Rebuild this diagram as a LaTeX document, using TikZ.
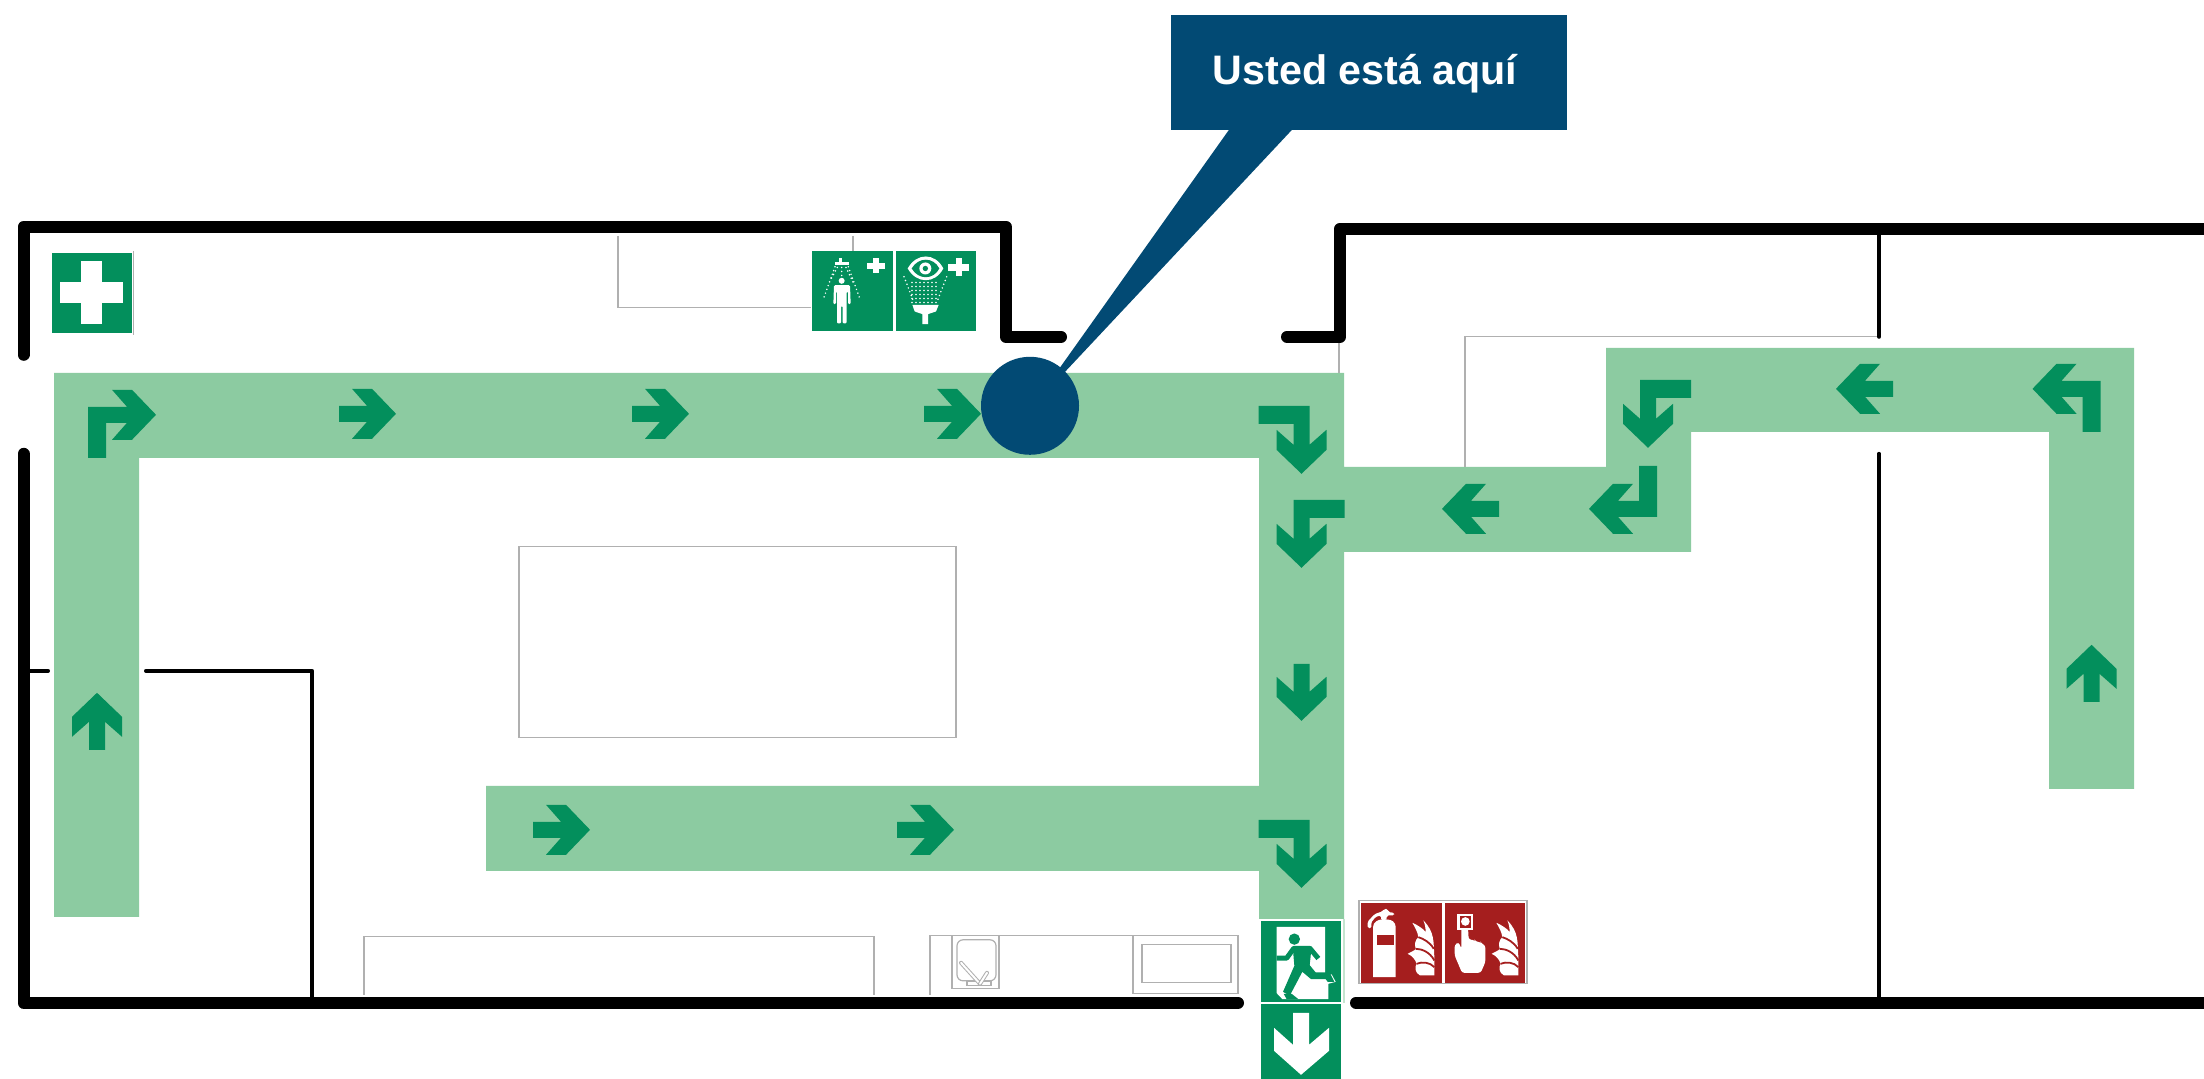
\documentclass[tikz,border=0pt]{standalone}
\usepackage{fontspec}
\setmainfont{Liberation Sans}
\definecolor{path}{HTML}{8CCBA1}
\definecolor{signg}{HTML}{038F5C}
\definecolor{navy}{HTML}{024A74}
\definecolor{fire}{HTML}{A51E1E}
\definecolor{thingray}{HTML}{B0B0B0}
\tikzset{
  wall/.style={draw=black,line width=6pt,line cap=round,line join=round},
  thinwall/.style={draw=black,line width=2pt,line cap=round,line join=round},
  gray line/.style={draw=thingray,line width=0.6pt},
  arrowfill/.style={fill=signg},
  RD/.style={x={(0.5pt,0pt)},y={(0pt,-0.5pt)}},
  DL/.style={x={(0pt,-0.5pt)},y={(-0.5pt,0pt)}},
  DR/.style={x={(0pt,-0.5pt)},y={(0.5pt,0pt)}},
  LU/.style={x={(-0.5pt,0pt)},y={(0pt,0.5pt)}},
  LD/.style={x={(-0.5pt,0pt)},y={(0pt,-0.5pt)}},
  UR/.style={x={(0pt,0.5pt)},y={(0.5pt,0pt)}},
  zoomed/.style={x=0.16667pt,y=-0.16667pt},
  spray/.style={draw=white,line width=0.85pt,line cap=round,dash pattern=on 0pt off 2pt},
}
\newcommand{\straightarr}[3]{\fill[arrowfill,shift={(#2,#3)},#1] (0,0)--(-24,25)--(-44,25)--(-29,8)--(-57,8)--(-57,-8)--(-29,-8)--(-44,-25)--(-24,-25)--cycle;}
\newcommand{\bentarr}[3]{\fill[arrowfill,shift={(#2,#3)},#1] (0,0)--(-24,25)--(-44,25)--(-29,8)--(-50,8)--(-50,43)--(-68,43)--(-68,-8)--(-29,-8)--(-44,-25)--(-24,-25)--cycle;}
\newcommand{\flame}{%
  \fill[white] (205,65) .. controls (240,100) and (235,130) .. (238,175) -- (238,230) -- (195,230)
    .. controls (180,222) and (178,205) .. (185,195)
    .. controls (180,180) and (170,170) .. (158,165)
    .. controls (170,158) and (180,155) .. (182,150)
    .. controls (178,135) and (180,125) .. (190,115)
    .. controls (188,100) and (180,85) .. (172,72)
    .. controls (190,80) and (205,90) .. (212,100)
    .. controls (212,90) and (210,75) .. (205,65) -- cycle;
  \draw[fire,line width=0.9pt] (190,115) .. controls (205,120) and (225,130) .. (236,150);
  \draw[fire,line width=0.9pt] (182,150) .. controls (200,150) and (225,160) .. (238,185);
  \draw[fire,line width=0.9pt] (185,195) .. controls (200,188) and (225,190) .. (238,205);
}
\begin{document}
\begin{tikzpicture}[x=0.5pt,y=-0.5pt]
\useasboundingbox (0,0) rectangle (2204,1079);
\fill[white] (0,0) rectangle (2204,1079);
\begin{scope}[yshift=-0.4pt]

% escape route band
\fill[path] (54,372)--(1344,372)--(1344,466)--(1606,466)--(1606,347)--(2134,347)--(2134,788)--(2049,788)--(2049,431)--(1691,431)--(1691,551)--(1344,551)--(1344,918)--(1259,918)--(1259,870)--(486,870)--(486,785)--(1259,785)--(1259,457)--(139,457)--(139,916)--(54,916)--cycle;

% thin grey furniture
\draw[gray line] (618,235)--(618,307)--(811,307);
\draw[gray line] (853,235)--(853,250);
\draw[gray line] (519,546) rectangle (956,737);
\draw[gray line] (1465,466)--(1465,336)--(1879,336);
\draw[gray line] (1339,336)--(1339,372);
\draw[gray line] (364,994)--(364,936)--(874,936)--(874,994);
\draw[gray line] (930,994)--(930,935)--(1238,935)--(1238,993)--(1133,993)--(1133,935);
\draw[gray line] (1142,944) rectangle (1231,982);
\draw[gray line] (952,935) rectangle (999,988);
\draw[gray line,rounded corners=3pt] (957,939) rectangle (996,980);
\draw[gray line] (967,981) rectangle (991,985);
\draw[thingray,line width=2pt,line cap=round] (961,962)--(980,983);
\draw[white,line width=1pt,line cap=round] (961,962)--(980,983);
\draw[thingray,line width=2pt,line cap=round] (987,972)--(980,983);
\draw[white,line width=1pt,line cap=round] (987,972)--(980,983);
\draw[thingray,line width=0.5pt] (133.5,250)--(133.5,334);
\draw[gray line] (1359,900) rectangle (1527,983);

% walls
\draw[wall] (23.5,354)--(23.5,226)--(1006,226)--(1006,336)--(1061,336);
\draw[wall] (1287,336)--(1340,336)--(1340,228)--(2210,228);
\draw[wall] (23.5,453)--(23.5,1002)--(1238,1002);
\draw[wall] (1356,1002)--(2210,1002);
\draw[thinwall] (23.5,670)--(48,670);
\draw[thinwall] (146,670)--(312,670)--(312,1002);
\draw[thinwall] (1879,234)--(1879,336);
\draw[thinwall] (1879,453)--(1879,1002);

% route arrows
\straightarr{RD}{396}{413}
\straightarr{RD}{689}{413}
\straightarr{RD}{981}{413}
\straightarr{RD}{590}{829}
\straightarr{RD}{954}{829}
\straightarr{UR}{97}{692}
\straightarr{UR}{2091.5}{644}
\straightarr{DL}{1301.5}{720}
\straightarr{LU}{1442}{508}
\straightarr{LU}{1836}{388}
\bentarr{RD}{156}{414}
\bentarr{DL}{1301.5}{473}
\bentarr{DR}{1301.5}{567}
\bentarr{DL}{1301.5}{887}
\bentarr{LU}{1589}{508}
\bentarr{DR}{1648}{447}
\bentarr{LD}{2032.5}{388}

% callout
\fill[navy] (1171,14) rectangle (1567,129);
\fill[navy] (1229,129)--(1052,378)--(1030,405)--(1066,370)--(1292,129)--cycle;
\fill[navy] (1030,405) circle[radius=49];
\node[text=white,font=\fontsize{20.6pt}{24pt}\selectfont\bfseries,anchor=base,inner sep=0pt] (here) at (1365,84) {Usted está aquí};

% first aid
\fill[signg] (52,252) rectangle (132,332);
\fill[white] (81,260) rectangle (102,323);
\fill[white] (60,281) rectangle (123,302);

% shower and eye-wash signs
\fill[signg] (812,250) rectangle (893,330);
\fill[signg] (896,250) rectangle (976,330);
\begin{scope}[shift={(780,220)},zoomed]
  \fill[white] (279,112) rectangle (297,158);
  \fill[white] (261,126) rectangle (315,144);
  \fill[white] (176,111) rectangle (186,125);
  \fill[white] (164,125) rectangle (206,132);
  \draw[spray] (165,138)--(130,235);
  \draw[spray] (205,138)--(240,235);
  \draw[spray] (172,140)--(150,180);
  \draw[spray] (198,140)--(222,190);
  \draw[spray] (185,140)--(185,165);
  \fill[white] (185,180) circle[radius=9];
  \fill[white,rounded corners=0.6pt] (162,193)--(210,193)--(212,250)--(204,250)--(204,212)--(200,212)--(200,308)--(188,308)--(188,255)--(183,255)--(183,308)--(171,308)--(171,212)--(168,212)--(168,250)--(160,250)--cycle;
  \fill[white] (527,112) rectangle (546,165);
  \fill[white] (505,130) rectangle (568,150);
  \fill[white] (383,143) .. controls (410,95) and (465,95) .. (490,143) .. controls (465,190) and (410,190) .. (383,143) -- cycle;
  \fill[signg] (395,143) .. controls (415,108) and (460,108) .. (478,143) .. controls (460,178) and (415,178) .. (395,143) -- cycle;
  \fill[white] (436,143) circle[radius=18];
  \fill[signg] (436,143) circle[radius=8];
  \draw[spray] (372,168)--(400,240);
  \draw[spray] (500,168)--(472,240);
  \foreach \yy in {185,197,209,221,233,245}{\draw[spray] (396,\yy)--(478,\yy);}
  \fill[white] (397,252)--(476,252)--(468,272)--(444,280)--(444,310)--(427,310)--(427,280)--(404,272)--cycle;
\end{scope}

% exit sign
\fill[signg] (1261,920) rectangle (1341,1001);
\draw[draw=path!50!white,line width=0.6pt] (1344,918)--(1344,1002);
\begin{scope}[shift={(1255,915)},zoomed]
  \fill[white] (65,33)--(210,33)--(210,176)--(230,176)--(242,198)--(220,204)--(220,250)--(82,250)--(65,232)--cycle;
  \fill[signg] (118,70) circle[radius=17];
  \draw[signg,line width=2.5pt,line join=round,line cap=butt] (65,127)--(95,127)--(116,98)--(165,98)--(190,128);
  \fill[signg] (113,92)--(170,92)--(164,148)--(182,170)--(224,170)--(238,198)--(218,198)--(212,190)--(168,190)--(142,168)--(104,240)--(84,228)--(118,150)--cycle;
  \fill[signg] (86,234)--(110,234)--(130,250)--(95,250)--cycle;
\end{scope}
\fill[signg] (1261,1003) rectangle (1341,1079);
\fill[white] (1293,1012)--(1309,1012)--(1309,1044)--(1329,1027)--(1329,1050)--(1301,1074)--(1274,1050)--(1274,1027)--(1293,1044)--cycle;

% fire signs
\fill[fire] (1361,902) rectangle (1442,982);
\fill[fire] (1445,902) rectangle (1525,982);
\begin{scope}[shift={(1355,898)},zoomed]
  \fill[white] (54,235)--(54,85) .. controls (54,70) and (70,62) .. (80,62) -- (96,62) .. controls (110,62) and (122,70) .. (122,85) -- (122,235) -- cycle;
  \fill[white,rounded corners=0.8pt] (38,88)--(38,68)--(60,45)--(82,38)--(88,30)--(98,30)--(100,40)--(118,42)--(118,50)--(95,50)--(95,64)--(78,64)--(78,50)--(62,54)--(48,72)--(50,88)--cycle;
  \fill[fire] (65,110) rectangle (118,138);
  \flame
\end{scope}
\begin{scope}[shift={(1440,898)},zoomed]
  \fill[white] (52,47) rectangle (100,95);
  \fill[fire] (59,53) rectangle (93,88);
  \fill[white] (76,68) circle[radius=13];
  \fill[white,rounded corners=1.2pt] (64,88)--(84,88)--(86,122)--(104,124)--(106,128)--(122,130)--(124,134)--(136,140)--(136,190)--(122,222)--(66,222)--(44,170)--(44,138)--(56,130)--(64,150)--cycle;
  \begin{scope}[xshift=-0.5pt]
    \flame
  \end{scope}
\end{scope}
\end{scope}
\end{tikzpicture}
\end{document}
